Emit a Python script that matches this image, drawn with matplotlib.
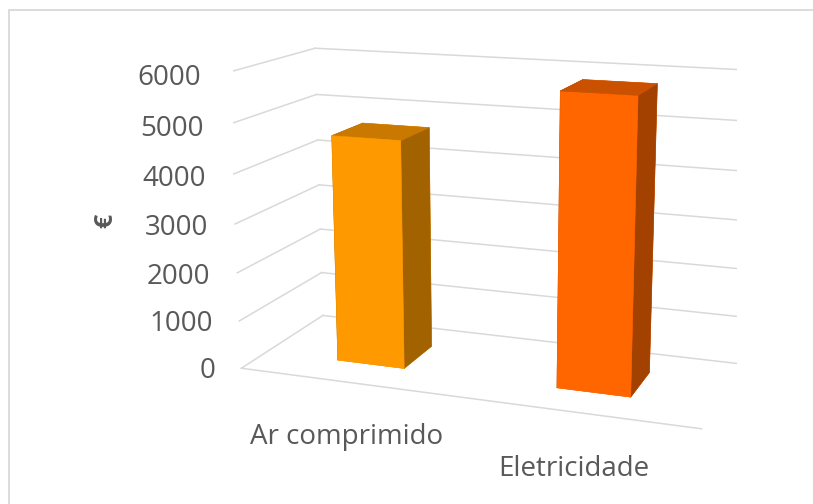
import matplotlib
matplotlib.use("Agg")
import matplotlib.pyplot as plt
from matplotlib.patches import Rectangle

# custos por tipo de energia
categorias = ["Ar comprimido", "Eletricidade"]
custos = [4670, 5820]
cor_frente = ["#FF9900", "#FF6600"]
cor_topo = ["#C97900", "#C95100"]
cor_lado = ["#A36200", "#A34100"]
ticks_eur = [0, 1000, 2000, 3000, 4000, 5000, 6000]

plt.rcParams["font.family"] = ["Open Sans", "DejaVu Sans"]
texto_cor = "#595959"
grelha_cor = "#D9D9D9"

fig = plt.figure(figsize=(8.13, 5.04), dpi=100)
ax = fig.add_axes([0.0967, 0.0453, 1, 1], projection="3d",
                  computed_zorder=False)
# vista 3D tipo Excel (rotação ~20°, inclinação ~15°, com perspetiva)
ax.set_proj_type("persp", focal_length=0.5475)
ax.view_init(elev=14.24, azim=-70.03)
ax.set_box_aspect((2.0, 0.7857, 1.2763), zoom=1.1463)

n = len(categorias)
ax.set_xlim(0, n)
ax.set_ylim(0, 1)
ax.set_zlim(0, ticks_eur[-1])
ax.set_xticks([])
ax.set_yticks([])
ax.set_zticks([])
for eixo in (ax.xaxis, ax.yaxis, ax.zaxis):
    eixo.label.set_visible(False)
    eixo.offsetText.set_visible(False)
ax.set_axis_off()

# grelha nas paredes lateral e traseira
for v in ticks_eur:
    ax.plot([0, 0], [0, 1], [v, v], color=grelha_cor, lw=1.1, zorder=1)
    ax.plot([0, n], [1, 1], [v, v], color=grelha_cor, lw=1.1, zorder=1)
ax.plot([0, n], [0, 0], [0, 0], color=grelha_cor, lw=1.1, zorder=1)

# colunas 3D
larg, prof, y0 = 0.314, 0.394, 0.30
for i, val in enumerate(custos):
    # ordem das faces: baixo, topo, frente, trás, esquerda, direita
    cores = [cor_frente[i], cor_topo[i], cor_frente[i], cor_frente[i],
             cor_lado[i], cor_lado[i]]
    ax.bar3d(i + 0.5 - larg / 2, y0, 0, larg, prof, val,
             color=cores, edgecolor=cores, linewidth=0.4, shade=False,
             zorder=3 + i)

for v in ticks_eur:
    ax.text(-0.13, 0, v - 140, str(v), ha="right", va="center", fontsize=20,
            color=texto_cor)

for i, cat in enumerate(categorias):
    ax.text(i + 0.49, 0, -860, cat, ha="center", va="top", fontsize=20,
            color=texto_cor)

fig.text(106 / 813, 1 - 221 / 504, "€", rotation=90, ha="center",
         va="center", fontsize=18, fontweight="bold", color=texto_cor)

fig.patches.append(Rectangle((9 / 813, -0.1), 1.1, 1 - 10 / 504 + 0.1,
                             transform=fig.transFigure, fill=False,
                             edgecolor=grelha_cor, lw=1.3))

fig.savefig("out.png", dpi=100)
